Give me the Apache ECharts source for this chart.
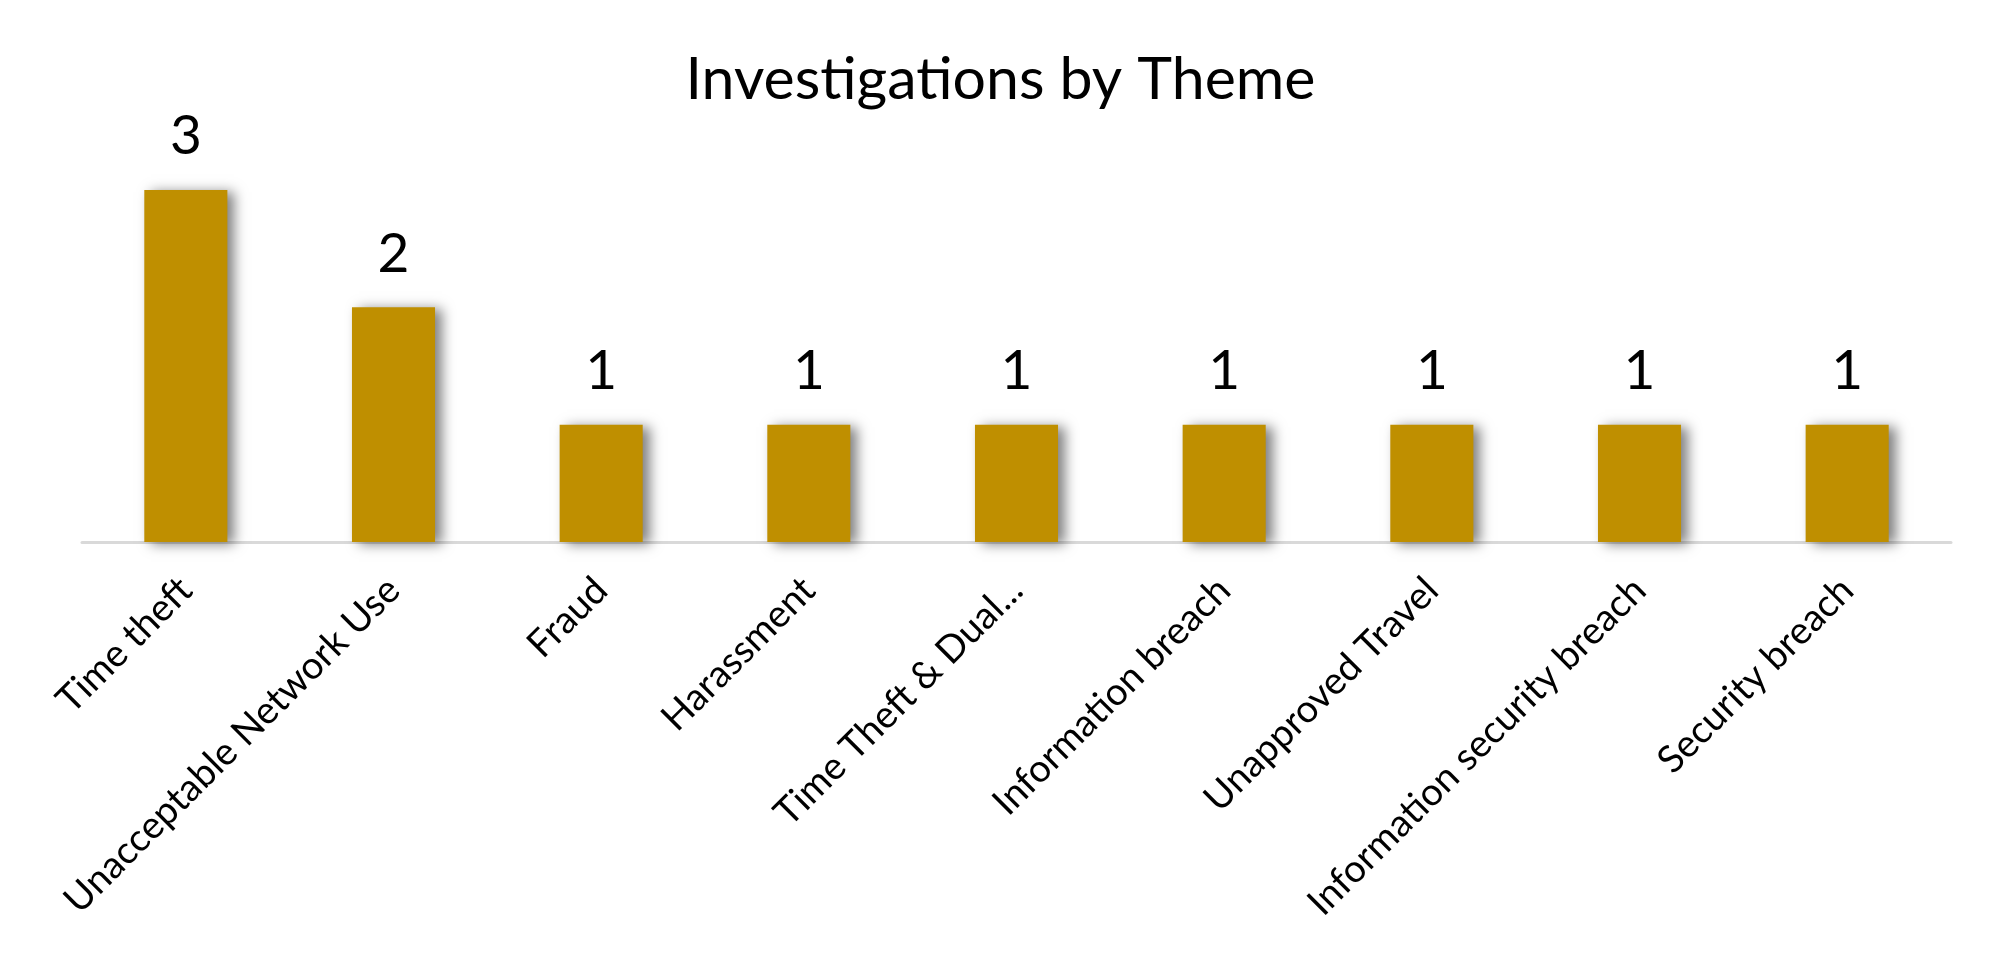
<!DOCTYPE html>
<html>
<head>
<meta charset="utf-8">
<script src="https://cdn.jsdelivr.net/npm/echarts@6/dist/echarts.min.js"></script>
<style>
html,body{margin:0;padding:0;background:#fff;}
#chart{width:2001px;height:980px;}
</style>
</head>
<body>
<div id="chart"></div>
<script>
const titleText = "Investigations by Theme";
const categories = [
  "Time theft",
  "Unacceptable Network Use",
  "Fraud",
  "Harassment",
  "Time Theft & Dual...",
  "Information breach",
  "Unapproved Travel",
  "Information security breach",
  "Security breach"
];
const counts = [3, 2, 1, 1, 1, 1, 1, 1, 1];

const FONT = "Lato, 'Open Sans', sans-serif";
const chart = echarts.init(document.getElementById('chart'), null, {renderer: 'canvas'});
chart.setOption({
  backgroundColor: '#ffffff',
  animation: false,
  title: {
    text: titleText,
    left: 'center',
    top: 45,
    textStyle: {fontFamily: FONT, fontSize: 59, fontWeight: 'normal', color: '#000'}
  },
  grid: {left: 82, right: 50, top: 190, bottom: 438, containLabel: false},
  xAxis: {
    type: 'category',
    data: categories,
    axisLine: {show: true, lineStyle: {color: '#d9d9d9', width: 3}},
    axisTick: {show: false},
    axisLabel: {
      rotate: 45,
      interval: 0,
      margin: 42,
      fontFamily: FONT,
      fontSize: 38,
      color: '#000'
    }
  },
  yAxis: {
    type: 'value',
    min: 0,
    max: 3,
    show: false,
    splitLine: {show: false}
  },
  series: [{
    type: 'bar',
    data: counts,
    barWidth: '40%',
    itemStyle: {
      color: '#BF8F00',
      shadowColor: 'rgba(0,0,0,0.5)',
      shadowBlur: 12,
      shadowOffsetX: 7,
      shadowOffsetY: 2
    },
    label: {
      show: true,
      position: 'top',
      distance: 26,
      fontFamily: FONT,
      fontSize: 55,
      color: '#000'
    }
  }]
});
</script>
</body>
</html>
